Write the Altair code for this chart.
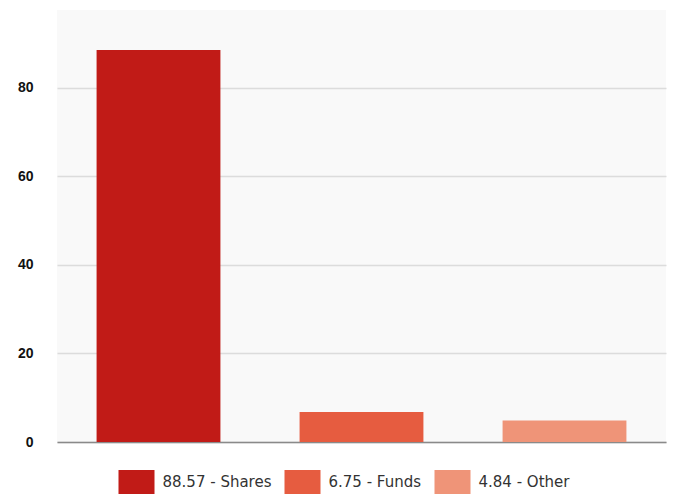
import altair as alt
import pandas as pd

categories = ["Shares", "Funds", "Other"]
values = [88.57, 6.75, 4.84]
colors = ["#C11B17", "#E65C40", "#EF9478"]
y_ticks = [0, 20, 40, 60, 80]

labels = [f"{v} - {c}" for v, c in zip(values, categories)]
df = pd.DataFrame({"category": categories, "value": values, "label": labels})

chart = (
    alt.Chart(df)
    .mark_bar()
    .encode(
        x=alt.X(
            "category:N",
            sort=categories,
            scale=alt.Scale(paddingInner=0.39, paddingOuter=0.195),
            axis=alt.Axis(
                title=None, labels=False, ticks=False,
                domain=True, domainColor="#8a8a8a", domainWidth=1.5, grid=False,
            ),
        ),
        y=alt.Y(
            "value:Q",
            scale=alt.Scale(domain=[0, 97.6], nice=False),
            axis=alt.Axis(
                title=None, values=y_ticks, ticks=False, domain=False,
                gridColor="#dcdcdc", gridWidth=1.5,
                labelFont="Liberation Sans", labelFontWeight="bold",
                labelFontSize=14, labelColor="#111111", labelPadding=24,
            ),
        ),
        color=alt.Color(
            "label:N",
            sort=labels,
            scale=alt.Scale(domain=labels, range=colors),
            legend=alt.Legend(
                title=None,
                orient="none",
                legendX=67.5,
                legendY=460,
                direction="horizontal",
                columns=3,
                gridAlign="none",
                columnPadding=13,
                symbolType="M-1.5,-1H1.5V1H-1.5Z",
                symbolSize=576,
                symbolStrokeWidth=0,
                symbolOpacity=1,
                labelFont="DejaVu Sans",
                labelFontSize=15,
                labelColor="#333333",
                labelOffset=14,
                labelLimit=300,
            ),
        ),
    )
    .properties(width=609, height=432)
    .configure_view(fill="#f9f9f9", stroke=None)
    .properties(
        autosize=alt.AutoSizeParams(type="none"),
        padding={"left": 57, "top": 10, "right": 9, "bottom": 53},
        background="white",
    )
)

chart.save("out.html", embed_options={"renderer": "svg", "actions": False})
